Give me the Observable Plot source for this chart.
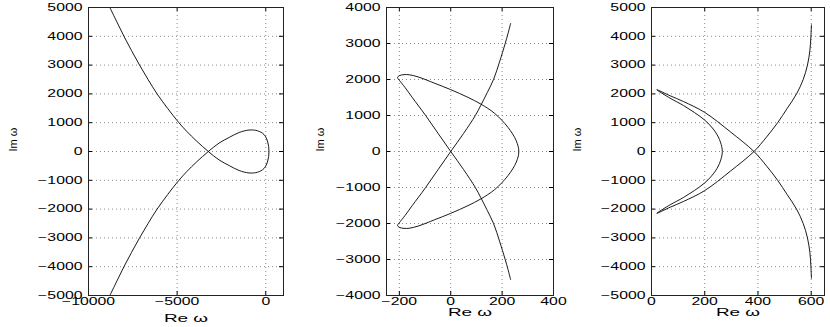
<!DOCTYPE html>
<html>
<head>
<meta charset="utf-8">
<script src="https://cdn.jsdelivr.net/npm/d3@7"></script>
<script src="https://cdn.jsdelivr.net/npm/@observablehq/plot@0.6"></script>
<style>
  html, body { margin: 0; padding: 0; background: #fff; }
  #wrap { position: relative; width: 830px; height: 327px; overflow: hidden; background: #fff; }
  #wrap svg { position: absolute; top: 0; overflow: visible; }
</style>
</head>
<body>
<div id="wrap"></div>
<script>
// ---------- Panel 1 ----------
const re1 = [-8780, -8400, -8000, -7570, -7120, -6640, -6130, -5540, -4900, -4460, -3900, -3240,
  -2640, -2060, -1500, -940, -470, -100, 110, 180,
  110, -100, -470, -940, -1500, -2060, -2640,
  -3240, -3900, -4460, -4900, -5540, -6130, -6640, -7120, -7570, -8000, -8400, -8780];
const im1 = [4980, 4500, 4000, 3500, 3000, 2500, 2000, 1500, 1000, 700, 360, 0,
  -290, -490, -660, -745, -720, -590, -330, 0,
  330, 590, 720, 745, 660, 490, 290,
  0, -360, -700, -1000, -1500, -2000, -2500, -3000, -3500, -4000, -4500, -4980];
const xTicks1 = [-10000, -5000, 0];
const yTicks1 = [-5000, -4000, -3000, -2000, -1000, 0, 1000, 2000, 3000, 4000, 5000];

// ---------- Panel 2 ----------
const re2 = [233, 223, 212, 190, 167, 142, 117, 96, 50, 0, -49, -98, -150, -178, -200, -207, -199, -182, -162, -127, -62, 0, 67, 117, 171, 223, 255, 265,
  255, 223, 171, 117, 67, 0, -62, -127, -162, -182, -199, -207, -200, -178, -150, -98, -49, 0, 50, 96, 117, 142, 167, 190, 212, 223, 233];
const im2 = [3556, 3278, 3000, 2490, 2006, 1634, 1281, 1003, 501, 0, -501, -1003, -1504, -1780, -1980, -2055, -2110, -2135, -2132, -2072, -1894, -1718, -1504, -1318, -1058, -669, -297, 0,
  297, 669, 1058, 1318, 1504, 1718, 1894, 2072, 2132, 2135, 2110, 2055, 1980, 1780, 1504, 1003, 501, 0, -501, -1003, -1281, -1634, -2006, -2490, -3000, -3278, -3556];
const xTicks2 = [-200, 0, 200, 400];
const yTicks2 = [-4000, -3000, -2000, -1000, 0, 1000, 2000, 3000, 4000];

// ---------- Panel 3 ----------
const re3 = [601, 599, 595, 586, 570, 545, 510, 474, 432, 385, 297, 200, 121, 70, 20,
  70, 121, 200, 240, 259, 266, 259, 240, 200, 121, 70, 20,
  70, 121, 200, 297, 385, 432, 474, 510, 545, 570, 586, 595, 599, 601];
const im3 = [4400, 4000, 3500, 3000, 2500, 2000, 1500, 1000, 500, 0, -678, -1357, -1731, -1935, -2145,
  -1850, -1591, -1088, -678, -327, 0, 327, 678, 1088, 1591, 1850, 2145,
  1935, 1731, 1357, 678, 0, -500, -1000, -1500, -2000, -2500, -3000, -3500, -4000, -4400];
const xTicks3 = [0, 200, 400, 600];
const yTicks3 = [-5000, -4000, -3000, -2000, -1000, 0, 1000, 2000, 3000, 4000, 5000];

const xLabel = "Re ω";
const yLabel = "Im ω";

const H = 327, MT = 7, MB = 32;
const fmt = d => (d < 0 ? "\u2212" + Math.abs(d) : String(d));

function panel({re, im, xDomain, yDomain, xTicks, yTicks, width, marginLeft, marginRight, yLabelDx, xLabelDy}) {
  const pts = re.map((r, i) => ({re: r, im: im[i]}));
  const plotW = width - marginLeft - marginRight;
  const plotH = H - MT - MB;
  const grid = {stroke: "#8a8a8a", strokeOpacity: 1, strokeWidth: 1, strokeDasharray: "1,3"};
  const svg = Plot.plot({
    width, height: H, marginTop: MT, marginBottom: MB, marginLeft, marginRight,
    x: {domain: xDomain},
    y: {domain: yDomain},
    style: {fontFamily: "'Liberation Sans', Arial, Helvetica, sans-serif", fontSize: "10px", background: "transparent", color: "#000"},
    marks: [
      Plot.gridX(xTicks, grid),
      Plot.gridY(yTicks, grid),
      Plot.tickX(xTicks, {x: d => d, insetTop: plotH - 4, stroke: "#000"}),
      Plot.tickX(xTicks, {x: d => d, insetBottom: plotH - 4, stroke: "#000"}),
      Plot.tickY(yTicks, {y: d => d, insetRight: plotW - 4, stroke: "#000"}),
      Plot.tickY(yTicks, {y: d => d, insetLeft: plotW - 4, stroke: "#000"}),
      Plot.axisX(xTicks, {tickSize: 0, tickPadding: 2, label: null, fontSize: 10, tickFormat: fmt}),
      Plot.axisY(yTicks, {tickSize: 0, tickPadding: 6, label: null, fontSize: 10, tickFormat: fmt}),
      Plot.line(pts, {x: "re", y: "im", curve: "catmull-rom", stroke: "#000", strokeWidth: 0.9}),
      Plot.frame({stroke: "#222", strokeWidth: 1}),
      Plot.text([xLabel], {frameAnchor: "bottom", dy: xLabelDy, lineAnchor: "middle", fontSize: 11}),
      Plot.text([yLabel], {frameAnchor: "left", dx: yLabelDx, rotate: -90, lineAnchor: "middle", fontSize: 11})
    ]
  });
  // stretch horizontal texts like the original rendering
  svg.querySelectorAll("text").forEach(t => {
    const tr = t.getAttribute("transform") || "";
    if (tr.includes("rotate")) return;
    const s = t.textContent === xLabel ? 1.72 : 1.58;
    t.setAttribute("transform", tr + ` scale(${s},1)`);
  });
  return svg;
}

const wrap = document.getElementById("wrap");
const specs = [
  {left: 0, re: re1, im: im1, xDomain: [-10000, 1000], yDomain: [-5000, 5000], xTicks: xTicks1, yTicks: yTicks1,
   width: 300, marginLeft: 88, marginRight: 17, yLabelDx: -75, xLabelDy: 23},
  {left: 300, re: re2, im: im2, xDomain: [-250, 400], yDomain: [-4000, 4000], xTicks: xTicks2, yTicks: yTicks2,
   width: 265, marginLeft: 86, marginRight: 12, yLabelDx: -66, xLabelDy: 17},
  {left: 565, re: re3, im: im3, xDomain: [0, 650], yDomain: [-5000, 5000], xTicks: xTicks3, yTicks: yTicks3,
   width: 265, marginLeft: 86, marginRight: 6, yLabelDx: -74, xLabelDy: 17}
];
for (const s of specs) {
  const svg = panel(s);
  svg.style.left = s.left + "px";
  wrap.appendChild(svg);
}
</script>
</body>
</html>
